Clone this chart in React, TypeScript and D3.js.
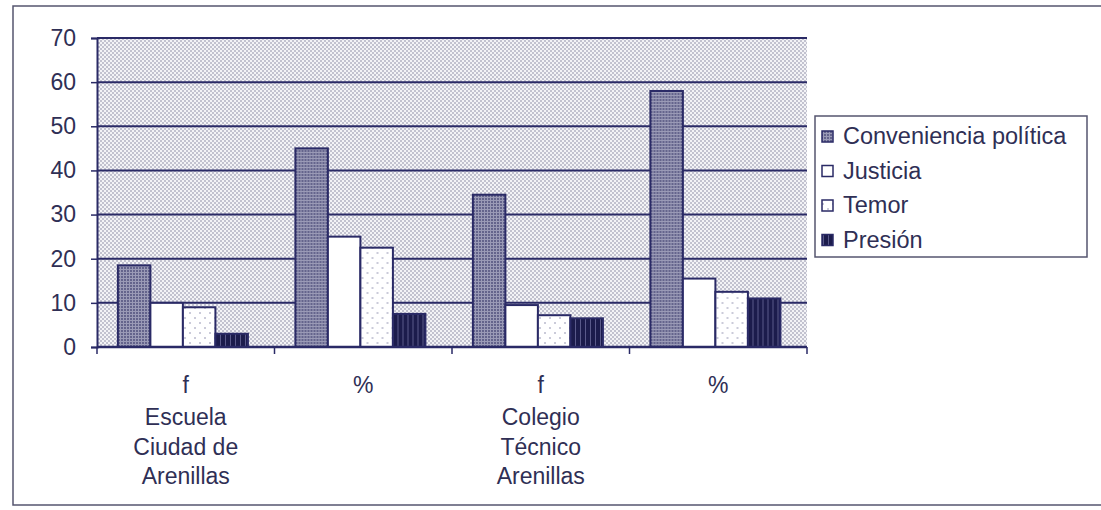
import React, { useEffect, useRef } from 'react';
import * as d3 from 'd3';

const categories = ['f1', 'p1', 'f2', 'p2'];
const categoryLabels: string[][] = [
    ['f', 'Escuela', 'Ciudad de', 'Arenillas'],
    ['%'],
    ['f', 'Colegio', 'Técnico', 'Arenillas'],
    ['%'],
];
const seriesNames = ['Conveniencia política', 'Justicia', 'Temor', 'Presión'];
const conveniencia = [18.5, 45, 34.5, 58];
const justicia = [10, 25, 9.5, 15.5];
const temor = [9, 22.5, 7.2, 12.5];
const presion = [3, 7.5, 6.5, 11];
const yTicks = [0, 10, 20, 30, 40, 50, 60, 70];

const INK = '#2a2a66';
const TEXT = '#2f2f55';
const FONT = "'Liberation Sans', Arial, sans-serif";

const App: React.FC = () => {
    const svgRef = useRef<SVGSVGElement>(null);

    useEffect(() => {
        if (!svgRef.current) return;
        const svg = d3.select(svgRef.current);
        svg.selectAll('*').remove();

        const width = 1101;
        const height = 510;
        const plot = { left: 97, top: 38, right: 807, bottom: 347 };
        const series = [conveniencia, justicia, temor, presion];

        const defs = svg.append('defs');
        // dotted background of the plot area
        const bg = defs.append('pattern').attr('id', 'bgDots')
            .attr('width', 4).attr('height', 4).attr('patternUnits', 'userSpaceOnUse');
        bg.append('rect').attr('width', 4).attr('height', 4).attr('fill', '#f3f3f6');
        bg.append('circle').attr('cx', 1).attr('cy', 1).attr('r', 0.8).attr('fill', '#85859f');
        bg.append('circle').attr('cx', 3).attr('cy', 3).attr('r', 0.8).attr('fill', '#85859f');

        const conv = defs.append('pattern').attr('id', 'convDots')
            .attr('width', 3).attr('height', 3).attr('patternUnits', 'userSpaceOnUse');
        conv.append('rect').attr('width', 3).attr('height', 3).attr('fill', '#9a9ab6');
        conv.append('circle').attr('cx', 1).attr('cy', 1).attr('r', 0.9).attr('fill', '#4a4a78');

        const tem = defs.append('pattern').attr('id', 'temorDots')
            .attr('width', 10).attr('height', 10).attr('patternUnits', 'userSpaceOnUse');
        tem.append('rect').attr('width', 10).attr('height', 10).attr('fill', '#ffffff');
        tem.append('circle').attr('cx', 3).attr('cy', 3).attr('r', 0.8).attr('fill', '#8a8aaa');
        tem.append('circle').attr('cx', 8).attr('cy', 8).attr('r', 0.8).attr('fill', '#8a8aaa');

        const pres = defs.append('pattern').attr('id', 'presStripes')
            .attr('width', 5).attr('height', 5).attr('patternUnits', 'userSpaceOnUse');
        pres.append('rect').attr('width', 5).attr('height', 5).attr('fill', '#1c1c4c');
        pres.append('rect').attr('x', 3).attr('width', 1).attr('height', 5).attr('fill', '#5a5a8a');

        const fills = ['url(#convDots)', '#ffffff', 'url(#temorDots)', 'url(#presStripes)'];

        // outer frame (right edge runs off the picture)
        svg.append('rect').attr('width', width).attr('height', height).attr('fill', '#ffffff');
        svg.append('rect').attr('x', 13).attr('y', 6).attr('width', 1100).attr('height', 499)
            .attr('fill', 'none').attr('stroke', '#55556f').attr('stroke-width', 1.5);

        const x0 = d3.scaleBand().domain(categories).range([plot.left, plot.right]);
        const x1 = d3.scaleBand().domain(seriesNames).range([0, x0.bandwidth()])
            .paddingInner(0).paddingOuter(0.73).align(0.44);
        const y = d3.scaleLinear().domain([0, 70]).range([plot.bottom, plot.top]);

        svg.append('rect').attr('x', plot.left).attr('y', plot.top)
            .attr('width', plot.right - plot.left).attr('height', plot.bottom - plot.top)
            .attr('fill', 'url(#bgDots)');

        // gridlines
        svg.append('g').selectAll('line').data(yTicks.filter(t => t > 0)).join('line')
            .attr('x1', plot.left).attr('x2', plot.right)
            .attr('y1', d => y(d)).attr('y2', d => y(d))
            .attr('stroke', INK).attr('stroke-width', 2);

        // y axis
        const yAxis = svg.append('g').attr('transform', `translate(${plot.left},0)`)
            .call(d3.axisLeft(y).tickValues(yTicks).tickSize(6).tickPadding(15));
        yAxis.select('.domain').attr('stroke', INK).attr('stroke-width', 2);
        yAxis.selectAll('.tick line').attr('stroke', INK).attr('stroke-width', 1.5);
        yAxis.selectAll('.tick text').attr('fill', TEXT)
            .attr('font-family', FONT).attr('font-size', 23);

        // bars
        const groups = svg.append('g').selectAll('g').data(categories).join('g')
            .attr('transform', d => `translate(${x0(d)},0)`);
        groups.selectAll('rect')
            .data((_, i) => series.map((s, k) => ({ name: seriesNames[k], value: s[i], k })))
            .join('rect')
            .attr('x', d => x1(d.name) ?? 0)
            .attr('width', x1.bandwidth())
            .attr('y', d => y(d.value))
            .attr('height', d => y(0) - y(d.value))
            .attr('fill', d => fills[d.k])
            .attr('stroke', INK).attr('stroke-width', 2);

        // x axis
        const xAxis = svg.append('g');
        xAxis.append('line').attr('x1', plot.left).attr('x2', plot.right)
            .attr('y1', plot.bottom).attr('y2', plot.bottom)
            .attr('stroke', INK).attr('stroke-width', 2.5);
        const bounds = categories.map(c => x0(c) ?? 0).concat([plot.right]);
        xAxis.selectAll('line.tk').data(bounds).join('line').attr('class', 'tk')
            .attr('x1', d => d).attr('x2', d => d)
            .attr('y1', plot.bottom).attr('y2', plot.bottom + 7)
            .attr('stroke', INK).attr('stroke-width', 1.5);
        categories.forEach((c, i) => {
            const cx = (x0(c) ?? 0) + x0.bandwidth() / 2;
            svg.append('text').attr('x', cx).attr('y', 393)
                .attr('text-anchor', 'middle').attr('fill', TEXT)
                .attr('font-family', FONT).attr('font-size', 23)
                .selectAll('tspan').data(categoryLabels[i]).join('tspan')
                .attr('x', cx).attr('dy', (_, j) => (j === 0 ? 0 : j === 1 ? 32 : 29.5))
                .text(d => d);
        });

        // legend
        const lg = svg.append('g').attr('transform', 'translate(815,116)');
        lg.append('rect').attr('width', 272).attr('height', 141)
            .attr('fill', '#ffffff').attr('stroke', '#55556f').attr('stroke-width', 1.5);
        seriesNames.forEach((name, i) => {
            const base = 28 + i * 34.5;
            lg.append('rect').attr('x', 7).attr('y', base - 13).attr('width', 11).attr('height', 11)
                .attr('fill', fills[i]).attr('stroke', INK).attr('stroke-width', 1.5);
            lg.append('text').attr('x', 28).attr('y', base)
                .attr('fill', TEXT).attr('font-family', FONT)
                .attr('font-size', 23.5).text(name);
        });
    }, []);

    return (
        <svg ref={svgRef} width={1101} height={510}
            style={{ position: 'absolute', left: 0, top: 0, display: 'block' }} />
    );
};

export default App;
